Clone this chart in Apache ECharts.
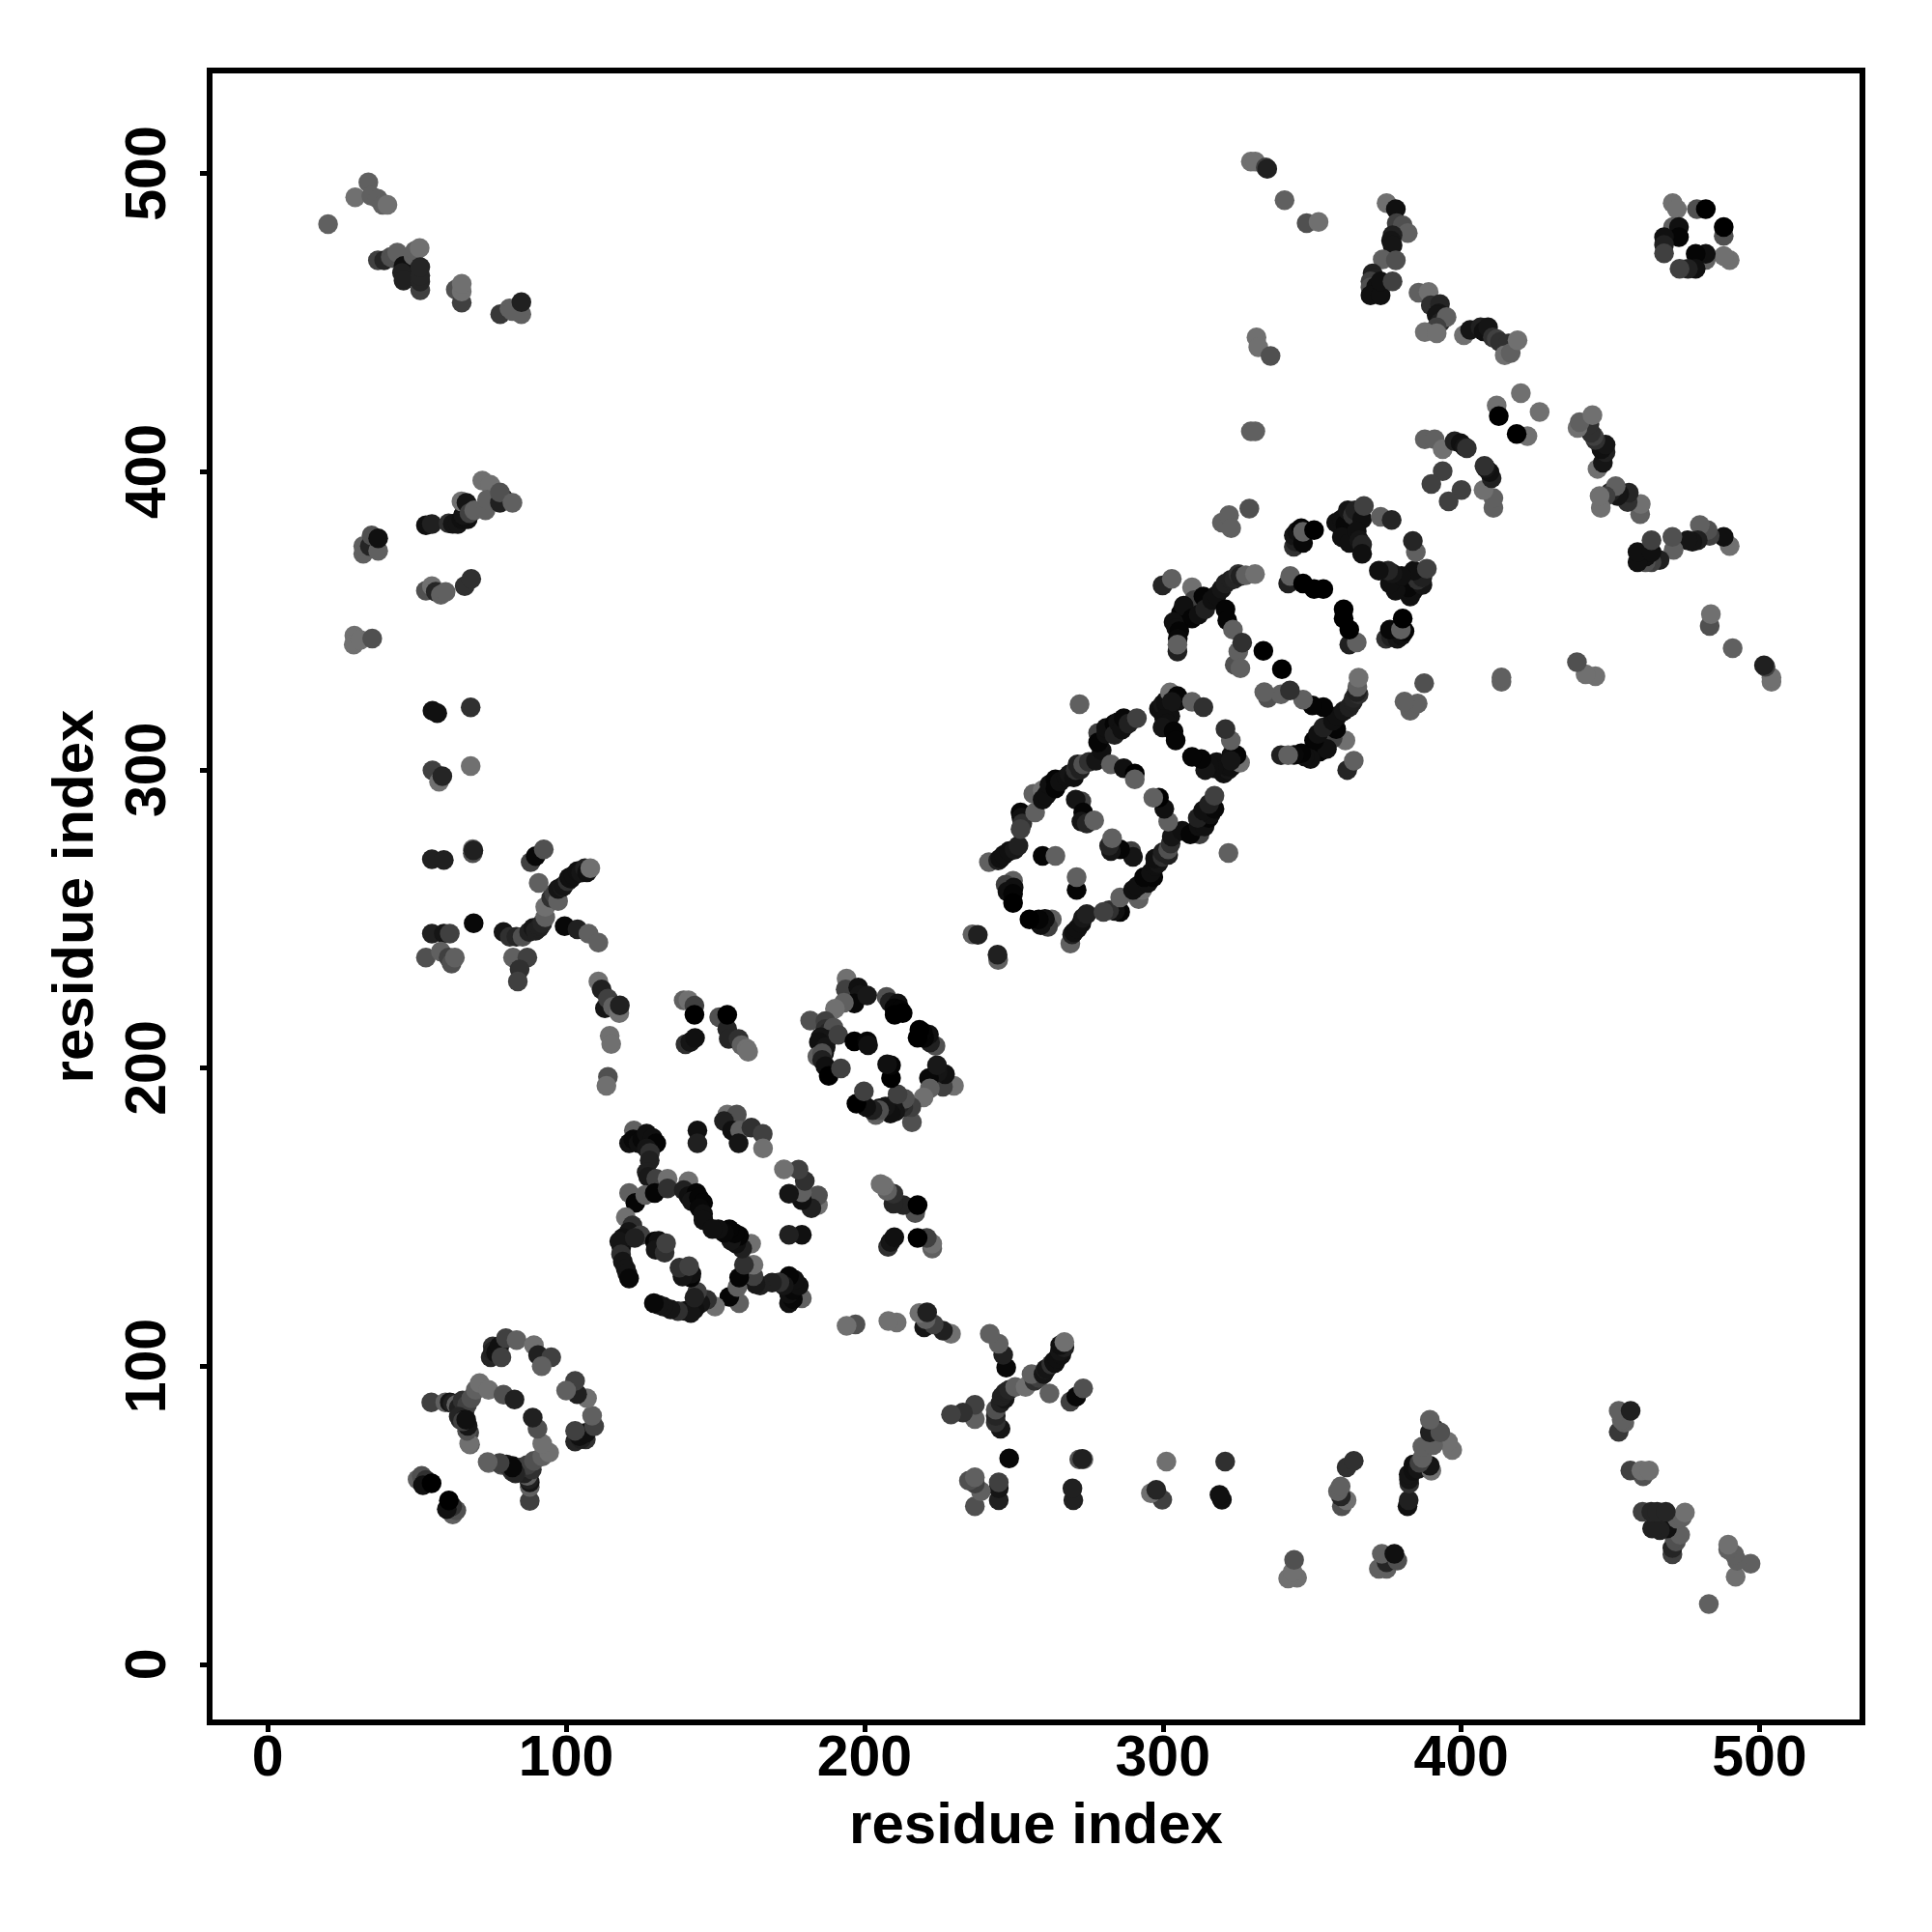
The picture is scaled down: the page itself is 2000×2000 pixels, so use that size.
<!DOCTYPE html>
<html><head><meta charset="utf-8">
<style>html,body{margin:0;padding:0;background:#fff}#c{width:2000px;height:2000px}</style>
<script src="https://cdn.jsdelivr.net/npm/echarts@6/dist/echarts.min.js"></script>
</head><body><div id="c"></div>
<script>
// each contact: [residue i, residue j, grey level]
const tickValues=[0,100,200,300,400,500];
const farTopLeft=[[20.2,483,0x60],[29.3,492,0x70],[33.7,497,0x60],[34.7,492.5,0x60],[36.9,491.5,0x60],[38.5,489.5,0x60],[40.1,489.5,0x70],
[36.9,470.8,0x40],[39,470.8,0x25],[41.2,472,0x50],[42.3,471.5,0x50],[43.4,473.4,0x60],[45.5,469,0x10],[45,466.6,0x20],[45.5,464,0x20],[48.8,472.4,0x60],[49.3,474,0x60],[50.9,475,0x70],[51.1,460.8,0x40],[51.1,463.7,0x25],[51.1,465.7,0x25],[51.1,468.6,0x25],
[63,461,0x50],[65,456.7,0x40],[65,460.4,0x70],[65,463,0x70],[77.9,452.8,0x38],[81,454.7,0x60],[82,453.8,0x60],[85,452.8,0x60],[85,456.8,0x20]];
const farBand380=[[53,382,0x10],[55,382.4,0x20],[60.6,382.6,0x30],[62,382.5,0x15],[63.7,382.4,0x15],[64.9,384,0x10],[67,384,0x10],[65.5,385.5,0x15],[64.9,390,0x70],[66.6,389.5,0x15],[67.6,386,0x40],[69.2,387,0x60],[73,387,0x60],[71.9,397,0x70],[74.6,395.6,0x70],[73.5,390.6,0x60],[79,391,0x20],[77.8,389.5,0x20],[77.8,393,0x50],[82,389.5,0x60],
[32,372.4,0x60],[32,375,0x60],[34.2,375,0x25],[37,373.4,0x60],[34.8,378.6,0x50],[37,377.6,0x10],
[53,360,0x50],[55,361.6,0x70],[56.3,359.7,0x25],[58,358.7,0x60],[59.6,359.6,0x60],[66,361.6,0x30],[68.2,364,0x30],
[29,345,0x70],[28.8,342,0x70],[31,343.5,0x70],[35,344,0x50],
[55.2,319.8,0x10],[56.8,319,0x10],[68,320.9,0x30],[55.2,299.8,0x40],[57.4,296,0x70],[58.5,297.8,0x25],[68,301.2,0x70]];
const band245=[[55,270,0x20],[59,269.7,0x20],[68.7,272,0x50],[68.7,273.4,0x70],[68.9,273,0x20],
[55,245,0x20],[59,245,0x15],[61,245,0x40],[69,248.5,0x08],[53,237,0x50],[58,239,0x60],[60.6,237,0x40],[61.6,235,0x50],[62.7,237,0x60],
[79,245.6,0x15],[81.1,244,0x30],[83.3,244,0x25],[85.4,244,0x50],[87.6,245.6,0x20],[89,247,0x15],[89.8,246,0x20],[91,247,0x20],[91.4,247.6,0x20],[92,248.5,0x25],[93,250.5,0x60],[93,254,0x70],[95,257,0x30],[96,258.5,0x40],[97.3,256,0x60],
[88.1,269,0x40],[89.8,271,0x08],[92.5,273.3,0x50],[90.8,262,0x60],[97.3,260,0x15],[98.9,260.7,0x20],[99,261,0x15],[100.5,262.6,0x30],[101,263.8,0x10],[101.6,263.5,0x10],[102.5,264.6,0x10],[103.8,266,0x10],[105,265.5,0x15],[106.3,267,0x20],[107,265.6,0x10],[108.1,267,0x70],
[99.5,247.5,0x08],[103.8,246.5,0x20],[107.5,245,0x60],[110.8,242,0x60],[82.2,237,0x60],[87,237,0x40],[84.4,233,0x30],[83.8,229,0x40],
[110.8,229,0x70],[111.9,226.3,0x20],[113,220,0x15],[114,223.2,0x40],[115.7,220.5,0x60],[117.8,218.4,0x70],[118,221,0x20],[114.6,210.8,0x70],[115.1,208,0x70],[114,197,0x50],[113.5,194,0x70]];
const block210=[[139.4,222.7,0x60],[141,222.7,0x70],[143,220.9,0x40],[143,217.8,0x00],[140,207.9,0x30],[141.6,208.7,0x15],[143.2,210,0x10],
[151.3,217,0x50],[154,213,0x25],[154,217.8,0x00],[154.5,209.7,0x25],[157.8,209.7,0x30],[158.8,207.6,0x60],[160.5,206.5,0x70],[161,205.4,0x70]];
const ring205=[[194,230,0x70],[193.7,226.3,0x40],[197.9,227,0x10],[198.5,224.5,0x15],[196.6,221.6,0x08],[200.9,224.3,0x18],[207.4,223.8,0x50],[208.5,222,0x20],[211.2,221.6,0x10],[210,220,0x05],[212,219.5,0x05],[210.1,217.8,0x00],[212.8,218.4,0x00],[193.1,221.9,0x60],[190.1,219.8,0x70],[181.8,215.9,0x50],[186.9,215.7,0x40],[186.9,213,0x30],[188,212,0x25],[189.6,213.5,0x50],[185.3,210.3,0x15],[187.5,209.5,0x15],[184.7,208.7,0x10],[187,207,0x15],[186.5,205,0x15],[191.2,211.1,0x40],[196.6,208.9,0x00],[200.9,208.9,0x05],[201.2,207.6,0x10],[184.2,203.8,0x60],[185.8,204.9,0x50],[185.8,202.7,0x20],[186.9,200.6,0x10],[188,197.3,0x00],[192.1,199.8,0x40]];
const ring150=[[122.7,179,0x60],[121.1,174.7,0x10],[122.5,176,0x08],[124.3,174.7,0x10],[125.5,176,0x08],[127,178,0x10],[129,176.5,0x10],[130.2,174.7,0x05],[127,173,0x15],[128.1,171.5,0x30],[128,169,0x20],[127,165,0x20],[127.5,163.5,0x18],[130.2,162.8,0x40],[134,162.8,0x70],[121.1,158,0x60],[123.2,154.7,0x05],[126.5,157.4,0x60],[129.7,158,0x05],[134,159.6,0x30],
[141,162,0x70],[139.4,159,0x20],[141,157,0x10],[143.7,158,0x05],[142.1,155.3,0x15],[144.5,156.5,0x05],[145.9,154.7,0x05],[144.7,153,0x08],[145.9,151,0x10],[146,149,0x10],
[120,149.9,0x70],[122.2,147.2,0x30],[121,145,0x15],[119,143,0x10],[118.5,140,0x10],[117.8,141.8,0x15],[124.9,143.9,0x40],[123,143,0x20],[129.7,141.8,0x05],[131,142,0x10],[130,139,0x15],[133,138,0x30],[133.5,141.2,0x40],[118.4,137.5,0x30],[119,135,0x15],[120,132.6,0x15],[120.5,131,0x15],[121.1,129.4,0x08],
[154,184.4,0x70],[157.2,184.4,0x50],[152.9,182.2,0x20],[155.6,179,0x10],[158.3,179,0x60],[162.1,180,0x30],[165.9,177.9,0x40],[157.8,174.7,0x15],[166,173,0x70],[144,179,0x10],[144,174.7,0x20]];
const ring85=[[50.2,62,0x60],[51.6,63.2,0x50],[53,61.8,0x30],[52,60,0x10],[54.9,60.7,0x00],
[54.8,87.8,0x40],[59.5,87.8,0x60],[61,87.8,0x15],[62,87.5,0x20],[63.2,87,0x60],[64,86,0x20],[65.3,88.5,0x30],[66,85,0x30],[66.8,87,0x40],[68.2,89.2,0x50],[69.7,92,0x60],[71,94.3,0x70],[74,92,0x70],[79,90.4,0x50],[82.7,88.8,0x20],
[64.6,82,0x30],[64,83,0x25],[66,82,0x08],[67.5,77.7,0x40],[67.8,73.7,0x60],[74,67.5,0x70],[78.3,66.8,0x50],[80,67,0x15],[81.5,65.4,0x40],[82,66.5,0x10],
[74.7,103,0x25],[75.4,106.6,0x30],[75.5,105,0x20],[76.5,104.5,0x10],[77.6,106.6,0x10],[78.3,103,0x40],[79.8,109.4,0x40],[83.4,108.7,0x60],[89.2,107,0x70],[90.6,103.7,0x20],[95,103,0x40],[91.8,100,0x60]];
const ring270=[[236.2,244.8,0x60],[238,244.6,0x20],[241.7,269,0x60],[244.8,269.6,0x20],[245.5,270.2,0x10],[246.7,271.4,0x10],[248.5,272.7,0x10],[250.3,273.2,0x18],[251.6,274.5,0x20],[249.8,262.8,0x60],[247.3,261.5,0x40],[250,260.5,0x10],[247.9,259.1,0x10],[249.8,258.4,0x05],[249.8,255.3,0x00],
[252.3,285.7,0x05],[252.6,284,0x10],[252.9,282,0x30],[252.3,280.1,0x40],[257.2,285.7,0x60],[256.6,291.9,0x60],[259.7,293.1,0x70],[259.7,290,0x10],[261,291.5,0x10],[262,295,0x10],[264,296.8,0x05],[264,293.7,0x05],[265.5,296,0x10],[267.7,297.4,0x10],[268.7,298.5,0x15],[270.2,297.4,0x10],[270.8,299.9,0x30],[272.3,300,0x20],[271.4,301.8,0x20],[273.3,301.8,0x50],[275.2,302.6,0x30],[277.6,303,0x15],
[279.5,306.5,0x10],[278.3,312.3,0x40],[278.3,309.2,0x05],[281,312,0x10],[281,314,0x10],[283.8,315.4,0x05],[283.8,311.7,0x20],[285,316,0x10],[286.3,313.5,0x10],[286.9,317.3,0x08],[288.5,315.5,0x20],[291.3,317.3,0x40],[282.6,301.8,0x60],[286.9,300.5,0x10],[290.6,298.7,0x00],[290.6,296.8,0x60],
[272.7,289.4,0x40],[270.8,290,0x15],[273.3,285.7,0x05],[272.7,282.6,0x15],[274.5,282,0x25],[277,283,0x60],[259.7,271.1,0x05],[264,271.1,0x60],[272.1,322,0x60]];
const ring320=[[298.7,320.4,0x10],[299.9,319.1,0x10],[300,322,0x15],[301.2,321.6,0x10],[301,323,0x10],[302.5,318,0x10],[302.4,325.9,0x70],[305,323,0x10],[304.9,324.7,0x05],[303,322.8,0x15],[309.8,322.8,0x60],[313.6,321,0x30],[300.5,317,0x10],[301.5,315.5,0x10],[299.9,314.2,0x15],[303.6,312.9,0x05],[304.3,309.8,0x05]];
const ring350=[[299.9,361.8,0x25],[303,364,0x60],[309.8,361.2,0x70],[310.5,356.9,0x40],[313.6,358.1,0x05],[306.1,352.6,0x05],[307,355,0x10],[309.8,350.7,0x05],[312,352,0x10],[314.2,353.8,0x20],[316.5,357,0x10],[318,358.5,0x10],[303.6,349.5,0x10],[304.5,347.5,0x10],[305.5,346.4,0x05],[305,344,0x08],[304.9,339.6,0x20],[304.9,342,0x60],
[319.7,360.6,0x15],[321,362.5,0x20],[322.8,363.7,0x20],[324,364,0x25],[325.3,365.6,0x30],[326,365,0x20],[327.8,365.2,0x60],[330.9,365.6,0x70],[321,353.8,0x05],[321.6,350.1,0x05],[323.5,347,0x60],[324.1,335.2,0x50],[325.3,339.6,0x60],[326,334,0x60],[326.6,342.6,0x30],[333.7,339.9,0x00],
[342,362.5,0x20],[342.7,365,0x60],[347,362.5,0x00],[350.7,360.6,0x00],[353.8,360.6,0x00],[343.9,374.8,0x30],[344.5,376.5,0x20],[343.9,378.6,0x15],[345,380,0x10],[346.4,381,0x05],[347,376.1,0x08],[347,379.8,0x60],[350.7,380.4,0x00],
[358.1,382.9,0x10],[360,384,0x10],[361.2,382.3,0x08],[362,387,0x15],[363.7,385.4,0x30],[364.5,387,0x20],[366.8,384.1,0x10],[367.4,388.5,0x40],[373,384.8,0x60],[376.7,383.8,0x25],[360,378,0x10],[362.5,376.1,0x10],[365,380,0x10],[365.8,377,0x15],[366.8,375.5,0x25],[366.8,372.4,0x10],
[319.8,382.9,0x60],[322.2,385.4,0x60],[322.9,381,0x60],[329,387.6,0x50],[329.5,413.5,0x60],[331,413.5,0x60]];
const farTopRight=[[329.5,504,0x70],[331,504,0x70],[334.5,502,0x40],[335,501.5,0x20],[340.8,491,0x60],[348.2,483.3,0x50],[352.2,483.7,0x70],[331.4,445,0x70],[332,441.7,0x70],[336.1,438.8,0x50],
[375,490,0x70],[378.1,488,0x10],[378.4,483.3,0x40],[380.4,482.6,0x50],[382.1,480,0x60],[377,479.3,0x20],[376.5,477.5,0x15],[377,475.9,0x15],[373.7,471.2,0x60],[378.1,470.8,0x50],[370.3,466.5,0x20],[371,465,0x20],[369.6,463.8,0x40],[369.6,461.8,0x50],[371.5,462,0x10],[369.6,459.1,0x10],[373,459.1,0x10],[373,463.8,0x10],[377,463.8,0x40],
[385.7,460,0x60],[389.1,460.2,0x70],[389.8,455.8,0x30],[392.9,456.2,0x25],[392.5,453,0x15],[391.8,452.4,0x15],[393,450,0x20],[395.1,451.8,0x60],[391.8,448.4,0x40],[387.8,446.8,0x70],[391.8,446.4,0x70],[400.9,445.7,0x70],[403,447.5,0x15],[406.5,448.4,0x20],[407.5,447,0x10],[409,448.4,0x15],[410.6,445,0x30],[411.9,444.4,0x40],[413,443.5,0x30],[415.9,443,0x30],[414.6,439,0x70],[416.6,439.7,0x60],[418.9,444,0x70]];
const cross410=[[420,426.3,0x70],[411.9,422.2,0x70],[412.6,418.6,0x00],[387.8,410.8,0x60],[391.1,410.8,0x60],[393.8,407.5,0x70],[397.8,410.2,0x20],[399.8,409.5,0x10],[401.2,408.2,0x15],[401.9,407.8,0x30],[393.8,400.1,0x40],[390,395.8,0x40]];
const ring480=[[470.9,490,0x70],[472.3,488,0x70],[471,482,0x60],[473,482,0x10],[473,478.6,0x05],[468,478.6,0x10],[468,476,0x20],[468,473.2,0x40],[479,488,0x50],[482,488,0x00]];

const contacts=[].concat(farTopLeft,farBand380,band245,block210,ring205,ring150,ring85,ring270,ring320,ring350,farTopRight,cross410,ring480);
const points=contacts.concat(contacts.map(c=>[c[1],c[0],c[2]]));
const fontName='"Liberation Sans"';
function axis(nameGap,rotate,margin){return{
  type:'value',min:-19.5,max:534.5,name:'residue index',nameLocation:'middle',nameGap:nameGap,nameMoveOverlap:false,
  nameTextStyle:{fontFamily:fontName,fontWeight:'bold',fontSize:60,color:'#000'},
  axisLine:{show:false,onZero:false},splitLine:{show:false},
  axisTick:{show:true,length:10,lineStyle:{color:'#000',width:5},customValues:tickValues},
  axisLabel:{show:true,rotate:rotate,margin:margin,fontFamily:fontName,fontWeight:'bold',fontSize:59,color:'#000',customValues:tickValues,hideOverlap:false,showMinLabel:true,showMaxLabel:true}
};}
const chart=echarts.init(document.getElementById('c'),null,{renderer:'canvas',width:2000,height:2000});
chart.setOption({
  animation:false,backgroundColor:'#fff',
  grid:{left:217,top:73,width:1711,height:1710,show:true,borderColor:'#000',borderWidth:6,backgroundColor:'#fff'},
  xAxis:axis(78,0,9),
  yAxis:axis(108,90,33),
  series:[{type:'scatter',symbol:'circle',symbolSize:20.5,data:points,clip:false,silent:true,large:false,
    itemStyle:{opacity:1,color:p=>{const v=p.value[2];return 'rgb('+v+','+v+','+v+')';}}}]
});
</script></body></html>
